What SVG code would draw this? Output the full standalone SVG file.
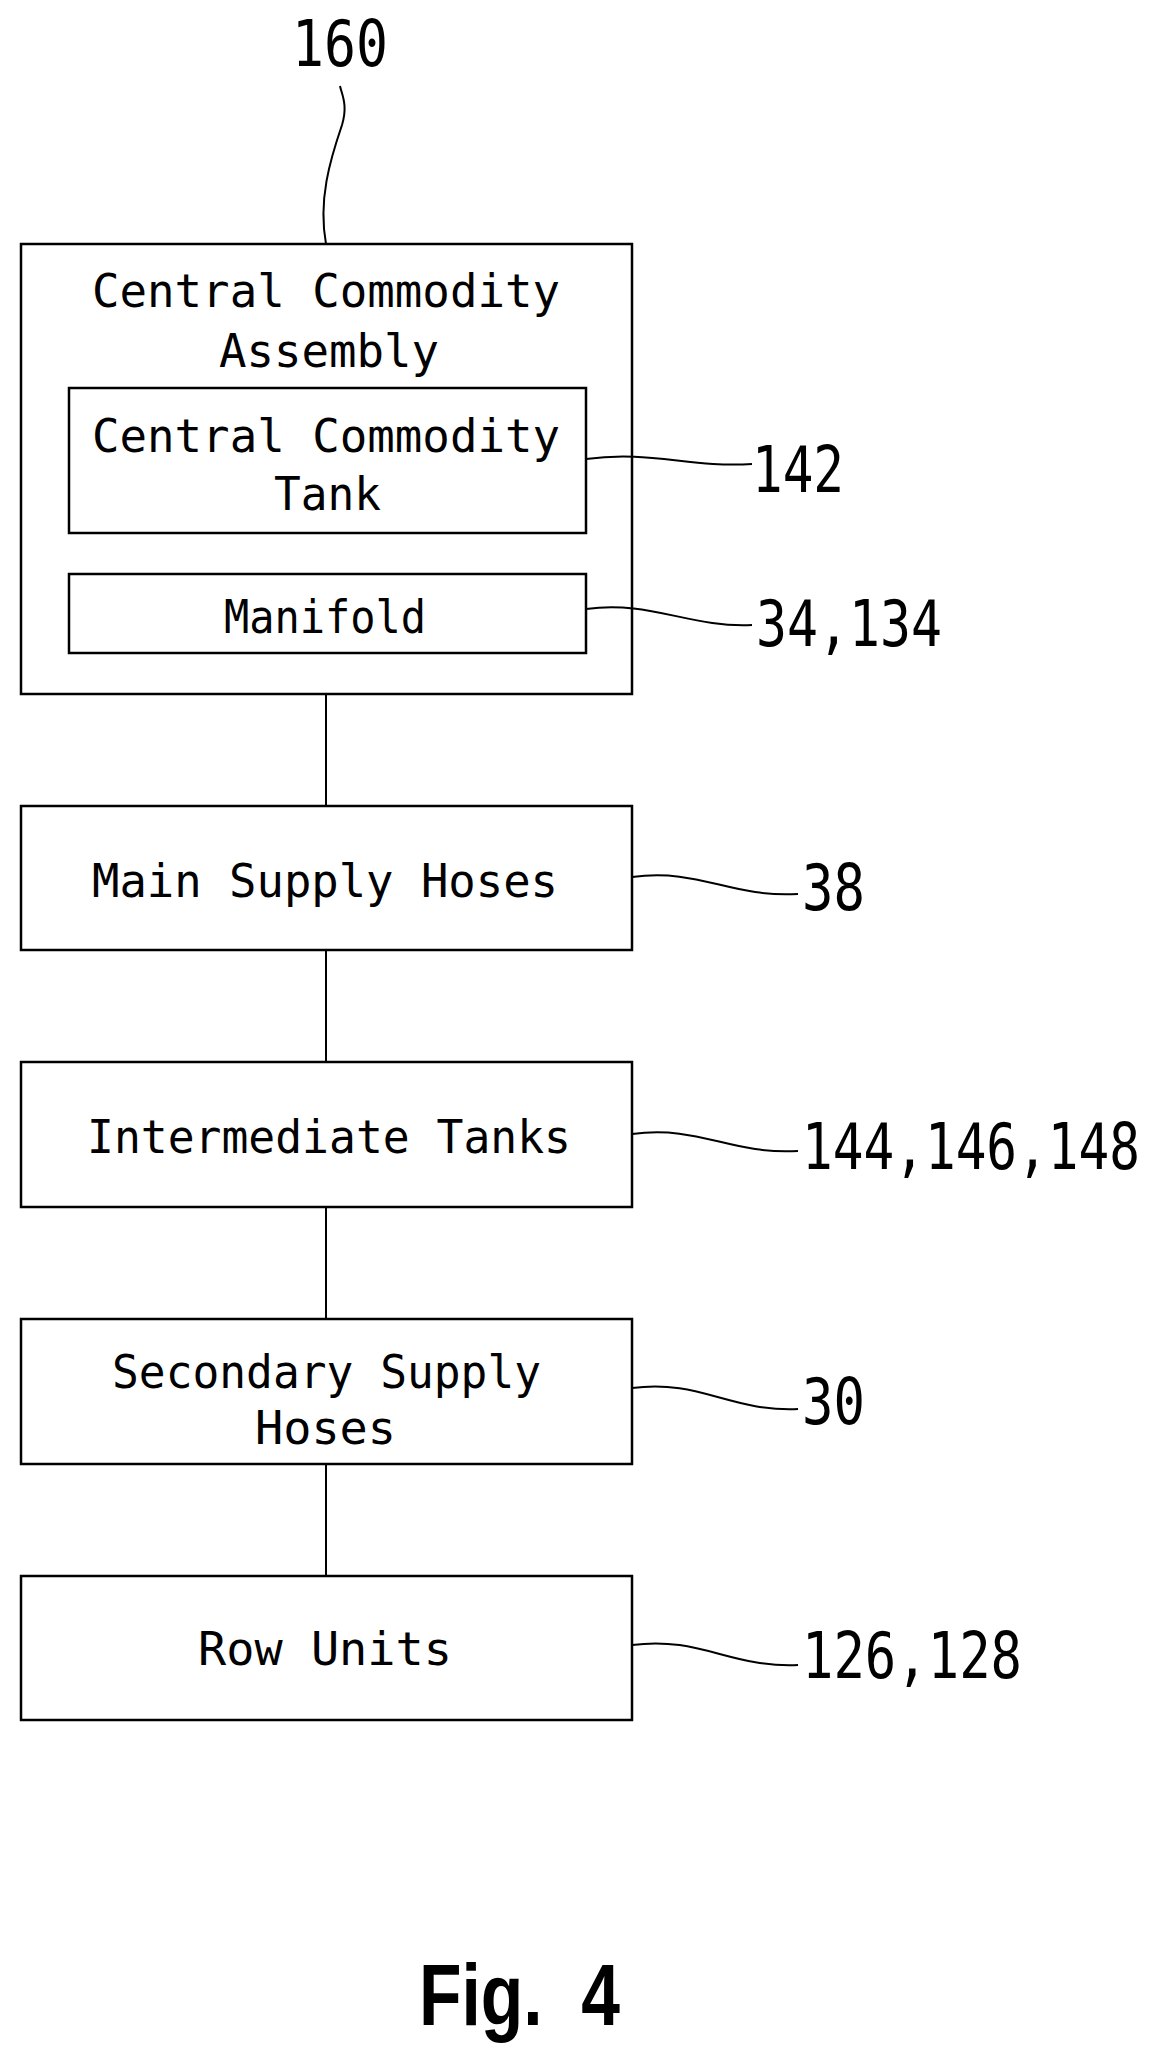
<svg xmlns="http://www.w3.org/2000/svg" width="1169" height="2069" viewBox="0 0 1169 2069">
<style>
.b{fill:none;stroke:#000;stroke-width:2.5}
.l{fill:none;stroke:#000;stroke-width:2}
.t{font-family:"DejaVu Sans Mono","Liberation Mono",monospace;font-size:46px;fill:#000;font-weight:normal}
.n{font-family:"DejaVu Sans Mono","Liberation Mono",monospace;font-size:64px;fill:#000}
.f{font-family:"Liberation Sans",Arial,sans-serif;font-size:88px;font-weight:bold;fill:#000}
</style>
<rect width="1169" height="2069" fill="#fff"/>
<g id="n160"><text class="n" x="292" y="66" textLength="96" lengthAdjust="spacingAndGlyphs">160</text></g>
<g id="assembly">
<rect class="b" x="21" y="244" width="611" height="450"/>
<text class="t" x="92" y="307" textLength="468" lengthAdjust="spacingAndGlyphs">Central Commodity</text>
<text class="t" x="219" y="367" textLength="220" lengthAdjust="spacingAndGlyphs">Assembly</text>
</g>
<g id="tank">
<rect class="b" x="69" y="388" width="517" height="145"/>
<text class="t" x="92" y="452" textLength="468" lengthAdjust="spacingAndGlyphs">Central Commodity</text>
<text class="t" x="274" y="510" textLength="107" lengthAdjust="spacingAndGlyphs">Tank</text>
<text class="n" x="752" y="492" textLength="92" lengthAdjust="spacingAndGlyphs">142</text>
</g>
<g id="manifold">
<rect class="b" x="69" y="574" width="517" height="79"/>
<text class="t" x="224" y="633" textLength="202" lengthAdjust="spacingAndGlyphs">Manifold</text>
<text class="n" x="756" y="646" textLength="186" lengthAdjust="spacingAndGlyphs">34,134</text>
</g>
<g id="main">
<rect class="b" x="21" y="806" width="611" height="144"/>
<text class="t" x="92" y="897" textLength="466" lengthAdjust="spacingAndGlyphs">Main Supply Hoses</text>
<text class="n" x="802" y="910" textLength="63" lengthAdjust="spacingAndGlyphs">38</text>
</g>
<g id="intermediate">
<rect class="b" x="21" y="1062" width="611" height="145"/>
<text class="t" x="87" y="1153" textLength="484" lengthAdjust="spacingAndGlyphs">Intermediate Tanks</text>
<text class="n" x="802" y="1169" textLength="338" lengthAdjust="spacingAndGlyphs">144,146,148</text>
</g>
<g id="secondary">
<rect class="b" x="21" y="1319" width="611" height="145"/>
<text class="t" x="112" y="1388" textLength="429" lengthAdjust="spacingAndGlyphs">Secondary Supply</text>
<text class="t" x="255" y="1444" textLength="141" lengthAdjust="spacingAndGlyphs">Hoses</text>
<text class="n" x="802" y="1424" textLength="63" lengthAdjust="spacingAndGlyphs">30</text>
</g>
<g id="rows">
<rect class="b" x="21" y="1576" width="611" height="144"/>
<text class="t" x="198" y="1665" textLength="254" lengthAdjust="spacingAndGlyphs">Row Units</text>
<text class="n" x="802" y="1678" textLength="220" lengthAdjust="spacingAndGlyphs">126,128</text>
</g>
<g id="connectors">
<path class="l" d="M326 694V806M326 950V1062M326 1207V1319M326 1464V1576"/>
<path class="l" d="M326 244C318 200 330 160 342 125C348 105 342 95 340 86"/>
<path class="l" d="M586 459C650 450 690 468 752 464"/>
<path class="l" d="M586 609C650 600 690 628 752 625"/>
<path class="l" d="M632 877C700 868 730 898 798 894"/>
<path class="l" d="M632 1134C700 1125 730 1155 798 1151"/>
<path class="l" d="M632 1388C700 1379 730 1412 798 1409"/>
<path class="l" d="M632 1645C700 1636 730 1668 798 1665"/>
</g>
<text class="f" x="419" y="2025" textLength="201" lengthAdjust="spacingAndGlyphs" xml:space="preserve">Fig.  4</text>
</svg>
